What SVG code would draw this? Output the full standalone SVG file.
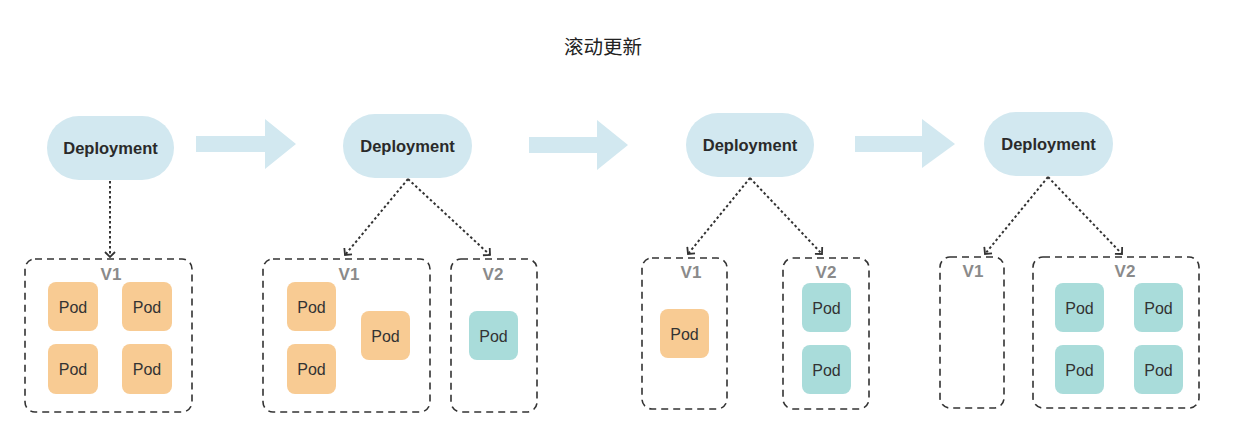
<svg xmlns="http://www.w3.org/2000/svg" width="1238" height="439" viewBox="0 0 1238 439">
<style>
.pill{fill:#D2E8F0}
.dep{font-family:"Liberation Sans",Arial,sans-serif;font-size:16.5px;font-weight:bold;fill:#2a2a2a;text-anchor:middle;dominant-baseline:central}
.box{fill:none;stroke:#333;stroke-width:1.6;stroke-dasharray:7,5}
.ver{font-family:"Liberation Sans",Arial,sans-serif;font-size:17px;font-weight:bold;fill:#8a8a8a;text-anchor:middle;dominant-baseline:central}
.pod1{fill:#F8CB93}
.pod2{fill:#A9DCDA}
.pt{font-family:"Liberation Sans",Arial,sans-serif;font-size:16px;fill:#333;text-anchor:middle;dominant-baseline:central}
.big{fill:#D2E8F0}
.con{fill:none;stroke:#333;stroke-width:2;stroke-dasharray:2.5,2.5}
.title{font-family:"Noto Sans CJK SC",sans-serif;font-size:19.5px;fill:#222;text-anchor:middle;dominant-baseline:central}
</style>
<defs>
<marker id="ah" markerWidth="12" markerHeight="12" refX="6" refY="6" orient="auto" markerUnits="userSpaceOnUse">
<path d="M1,1 L6,6 L1,11" fill="none" stroke="#333" stroke-width="1.8"/>
</marker>
</defs>
<rect width="1238" height="439" fill="#fff"/>
<text class="title" x="603" y="45">滚动更新</text>

<g id="flow-arrows">
<polygon class="big" points="196,136 265,136 265,119 296,144 265,169 265,152 196,152"/>
<polygon class="big" points="529,137 597,137 597,120 628,145 597,170 597,153 529,153"/>
<polygon class="big" points="855,136 922,136 922,119 955,144 922,168 922,152 855,152"/>
</g>

<g id="connectors">
<line class="con" x1="110" y1="181" x2="110" y2="257" marker-end="url(#ah)"/>
<line class="con" x1="408" y1="179" x2="345" y2="255" marker-end="url(#ah)"/>
<line class="con" x1="408" y1="179" x2="490" y2="255" marker-end="url(#ah)"/>
<line class="con" x1="750" y1="178" x2="688" y2="254" marker-end="url(#ah)"/>
<line class="con" x1="750" y1="178" x2="822" y2="254" marker-end="url(#ah)"/>
<line class="con" x1="1048" y1="177" x2="985" y2="254" marker-end="url(#ah)"/>
<line class="con" x1="1048" y1="177" x2="1122" y2="254" marker-end="url(#ah)"/>
</g>

<g id="deploy1"><rect class="pill" x="47" y="116" width="127" height="64" rx="32"/><text class="dep" x="110.5" y="148">Deployment</text></g>
<g id="deploy2"><rect class="pill" x="343" y="114" width="129" height="64" rx="32"/><text class="dep" x="407.5" y="146">Deployment</text></g>
<g id="deploy3"><rect class="pill" x="686" y="113" width="128" height="64" rx="32"/><text class="dep" x="750" y="145">Deployment</text></g>
<g id="deploy4"><rect class="pill" x="984" y="112" width="129" height="64" rx="32"/><text class="dep" x="1048.5" y="144">Deployment</text></g>

<g id="s1-v1">
<rect class="box" x="25" y="259" width="167" height="153" rx="10"/>
<text class="ver" x="111" y="274">V1</text>
<rect class="pod1" x="48" y="282" width="50" height="49" rx="8"/><text class="pt" x="73" y="307">Pod</text>
<rect class="pod1" x="122" y="282" width="50" height="49" rx="8"/><text class="pt" x="147" y="307">Pod</text>
<rect class="pod1" x="48" y="344" width="50" height="50" rx="8"/><text class="pt" x="73" y="369">Pod</text>
<rect class="pod1" x="122" y="344" width="50" height="50" rx="8"/><text class="pt" x="147" y="369">Pod</text>
</g>

<g id="s2-v1">
<rect class="box" x="263" y="259" width="167" height="153" rx="10"/>
<text class="ver" x="349" y="274">V1</text>
<rect class="pod1" x="287" y="282" width="49" height="49" rx="8"/><text class="pt" x="311.5" y="307">Pod</text>
<rect class="pod1" x="287" y="344" width="49" height="50" rx="8"/><text class="pt" x="311.5" y="369">Pod</text>
<rect class="pod1" x="361" y="311" width="49" height="49" rx="8"/><text class="pt" x="385.5" y="336">Pod</text>
</g>
<g id="s2-v2">
<rect class="box" x="451" y="259" width="86" height="153" rx="10"/>
<text class="ver" x="493" y="274">V2</text>
<rect class="pod2" x="469" y="311" width="49" height="49" rx="8"/><text class="pt" x="493.5" y="336">Pod</text>
</g>

<g id="s3-v1">
<rect class="box" x="642" y="258" width="85" height="151" rx="10"/>
<text class="ver" x="691" y="272">V1</text>
<rect class="pod1" x="660" y="309" width="49" height="49" rx="8"/><text class="pt" x="684.5" y="334">Pod</text>
</g>
<g id="s3-v2">
<rect class="box" x="783" y="258" width="86" height="151" rx="10"/>
<text class="ver" x="826" y="272">V2</text>
<rect class="pod2" x="802" y="283" width="49" height="49" rx="8"/><text class="pt" x="826.5" y="308">Pod</text>
<rect class="pod2" x="802" y="345" width="49" height="49" rx="8"/><text class="pt" x="826.5" y="370">Pod</text>
</g>

<g id="s4-v1">
<rect class="box" x="940" y="257" width="64" height="151" rx="10"/>
<text class="ver" x="973" y="271">V1</text>
</g>
<g id="s4-v2">
<rect class="box" x="1033" y="257" width="166" height="151" rx="10"/>
<text class="ver" x="1125" y="271">V2</text>
<rect class="pod2" x="1055" y="283" width="49" height="49" rx="8"/><text class="pt" x="1079.5" y="308">Pod</text>
<rect class="pod2" x="1134" y="283" width="49" height="49" rx="8"/><text class="pt" x="1158.5" y="308">Pod</text>
<rect class="pod2" x="1055" y="345" width="49" height="49" rx="8"/><text class="pt" x="1079.5" y="370">Pod</text>
<rect class="pod2" x="1134" y="345" width="49" height="49" rx="8"/><text class="pt" x="1158.5" y="370">Pod</text>
</g>
</svg>
